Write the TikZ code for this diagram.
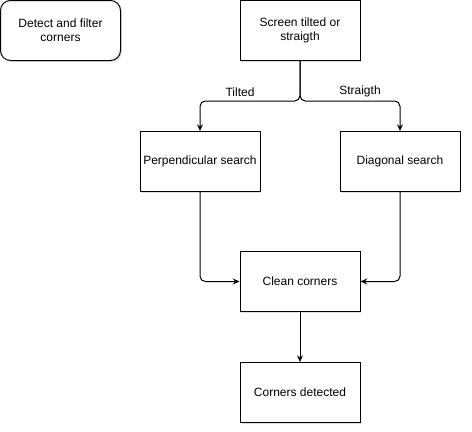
\documentclass[tikz,border=0pt]{standalone}
\usepackage{fontspec}
\setmainfont{Liberation Sans}
\usetikzlibrary{%
	positioning,
	arrows.meta,
	shadows
}

\begin{document}
\begin{tikzpicture}[
		x=0.75pt,y=-0.75pt,
		SBox/.style={draw,shape=rectangle,font=\fontsize{9}{10.5}\selectfont,minimum width=90pt,minimum height=45pt,inner xsep=1pt,align=center,fill=white,line width=0.75pt,drop shadow={shadow xshift=1pt,shadow yshift=-1pt,opacity=.25}},
		SRound/.style={SBox,rounded corners=7.5pt},
		flow/.style={-{Stealth[length=5pt,width=4.5pt]},line width=0.75pt,rounded corners=4pt},
		lbl/.style={font=\fontsize{9}{10.5}\selectfont,inner sep=3pt}
	]
	
		\useasboundingbox (0,0) rectangle (472,432);
		
		%start
		\node(detect) [SRound] at (60.5,30.5) {Detect and filter\\corners};
		
		%decision
		\node(screen) [SBox] at (300,30.5) {Screen tilted or\\straigth};
		\coordinate(split) at ([yshift=-30pt]screen.south);
		
		%search
		\node(perp) [SBox, below=52.5pt of screen, xshift=-75pt] {Perpendicular search};
		\node(diag) [SBox, below=52.5pt of screen, xshift=75pt] {Diagonal search};
		
		%clean
		\node(clean) [SBox, below=142.5pt of screen] {Clean corners};
		\node(found) [SBox, below=37.5pt of clean] {Corners detected};
		
		\draw [flow] (screen.south) -- (split) -| node [lbl,above,pos=.3] {Tilted} (perp.north);
		\draw [flow] (screen.south) -- (split) -| node [lbl,above,pos=.3] {Straigth} (diag.north);
		\draw [flow] (perp.south) |- (clean.west);
		\draw [flow] (diag.south) |- (clean.east);
		\draw [flow] (clean) -- (found);
		
	\end{tikzpicture}
\end{document}
